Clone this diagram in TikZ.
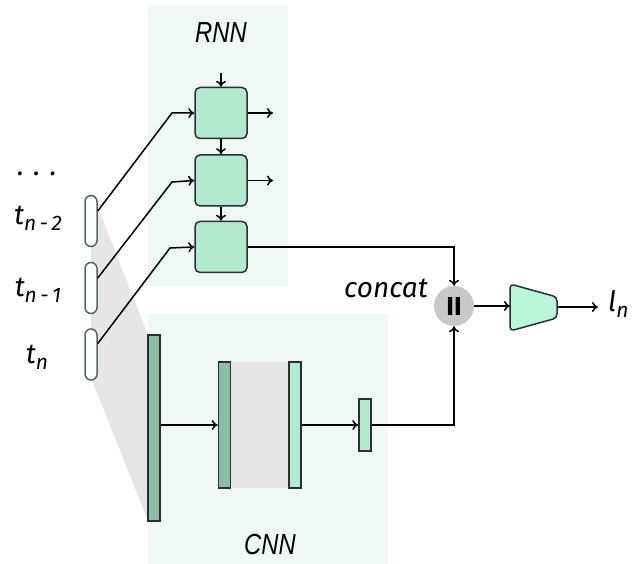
\documentclass[tikz,border=0pt]{standalone}
\usepackage{fontspec}
\setmainfont{Fira Sans}
\newfontfamily\labelfont[FakeStretch=0.82]{Liberation Sans}
\usetikzlibrary{arrows.meta}
\definecolor{panelmint}{HTML}{EFF9F4}
\definecolor{cellmint}{HTML}{B2EACD}
\definecolor{bardark}{HTML}{8DBEA4}
\definecolor{shadegray}{HTML}{E6E6E6}
\definecolor{catgray}{HTML}{C8C8C8}
\definecolor{headmint}{HTML}{B9F6D7}
\definecolor{pilledge}{HTML}{4D6B5D}
\definecolor{edgedark}{HTML}{2E2E2E}
\tikzset{
  panel/.style={draw=none, fill=panelmint, inner sep=0pt},
  cell/.style={draw=edgedark, fill=cellmint, rounded corners=5pt, line width=1.5pt,
    minimum width=52pt, minimum height=51pt, inner sep=0pt},
  pill/.style={draw=pilledge, fill=white, rounded corners=6pt, line width=1.5pt,
    minimum width=12pt, minimum height=51pt, inner sep=0pt},
  bar/.style={draw=edgedark, line width=1.5pt, minimum width=12pt, inner sep=0pt},
  wire/.style={line width=1.5pt, -{To[length=6pt,width=10pt]}},
  tlabel/.style={font=\itshape\fontsize{28}{28}\selectfont, inner sep=0pt},
  sectlabel/.style={font=\labelfont\itshape\fontsize{29}{29}\selectfont, inner sep=0pt}
}
\begin{document}
\begin{tikzpicture}[x=1pt,y=-1pt]
\useasboundingbox (0,0) rectangle (635,564);

% panels behind the two sub-networks
\node[panel, minimum width=140pt, minimum height=280pt] (rnnpanel) at (218,146) {};
\node[panel, minimum width=240pt, minimum height=250pt] (cnnpanel) at (268,439) {};

% receptive field of the convolution
\fill[shadegray] (91,205) -- (97,205) -- (148,335) -- (148,521) -- (91,378) -- cycle;

% recurrent cells
\node[cell] (r1) at (221,113) {};
\node[cell] (r2) at (221,180.5) {};
\node[cell] (r3) at (221,247) {};
\coordinate (rin) at (221,73);
\coordinate (o1) at (273,113);
\coordinate (o2) at (273,180.5);
\draw[wire] (rin) -- (r1.north);
\draw[wire] (r1.south) -- (r2.north);
\draw[wire] (r2.south) -- (r3.north);
\draw[wire] (r1.east) -- (o1);
\draw[wire] (r2.east) -- (o2);

% input tokens
\node[pill] (p1) at (91,221) {};
\node[pill] (p2) at (91,288) {};
\node[pill] (p3) at (91,354.5) {};
\draw[wire] ([yshift=10pt]p1.east) -- (172,113) -- (r1.west);
\draw[wire] ([yshift=10pt]p2.east) -- (172,182) -- (r2.west);
\draw[wire] ([yshift=11pt]p3.east) -- (170,248) -- (r3.west);

\node[tlabel] (dots) at (37,174) {. . .};
\node[tlabel] (tl2) at (38,218) {t\raisebox{-6pt}{\fontsize{21}{21}\selectfont n\,-\,2}};
\node[tlabel] (tl1) at (38,290) {t\raisebox{-6pt}{\fontsize{21}{21}\selectfont n\,-\,1}};
\node[tlabel] (tl0) at (37,357) {t\raisebox{-6pt}{\fontsize{21}{21}\selectfont n}};

% convolutional stack
\fill[shadegray] (231,362) rectangle (288,488);
\node[bar, fill=bardark, minimum height=186pt] (c1) at (154,428) {};
\node[bar, fill=bardark, minimum height=126pt] (c2) at (224.5,425) {};
\node[bar, fill=cellmint, minimum height=126pt] (c3) at (295,425) {};
\node[bar, fill=cellmint, minimum height=52pt] (c4) at (365,425) {};
\draw[wire] (c1.east |- c2.west) -- (c2.west);
\draw[wire] (c3.east) -- (c4.west);

% concatenation and output head
\node[circle, fill=catgray, minimum size=40pt, inner sep=0pt,
  font=\bfseries\fontsize{26}{26}\selectfont] (cat) at (454,306) {II};
\node[tlabel, anchor=east] (catlabel) at (428,288) {concat};
\draw[wire] (r3.east) -- (cat.north |- r3.east) -- (cat.north);
\draw[wire] (c4.east) -- (cat.south |- c4.east) -- (cat.south);

\coordinate (headL) at (510,306);
\coordinate (headR) at (557,307);
\draw[edgedark, fill=headmint, line width=1.5pt, rounded corners=4pt]
  (510,284) -- (557,297) -- (557,318) -- (510,331) -- cycle;
\draw[wire] (cat.east) -- (headL);
\coordinate (outend) at (598,307);
\draw[wire] (headR) -- (outend);
\node[tlabel, anchor=west] (ln) at (608,304) {l\raisebox{-6pt}{\fontsize{21}{21}\selectfont n}};

\node[sectlabel] (rnnlabel) at (221,33) {RNN};
\node[sectlabel] (cnnlabel) at (270,545) {CNN};
\end{tikzpicture}
\end{document}
